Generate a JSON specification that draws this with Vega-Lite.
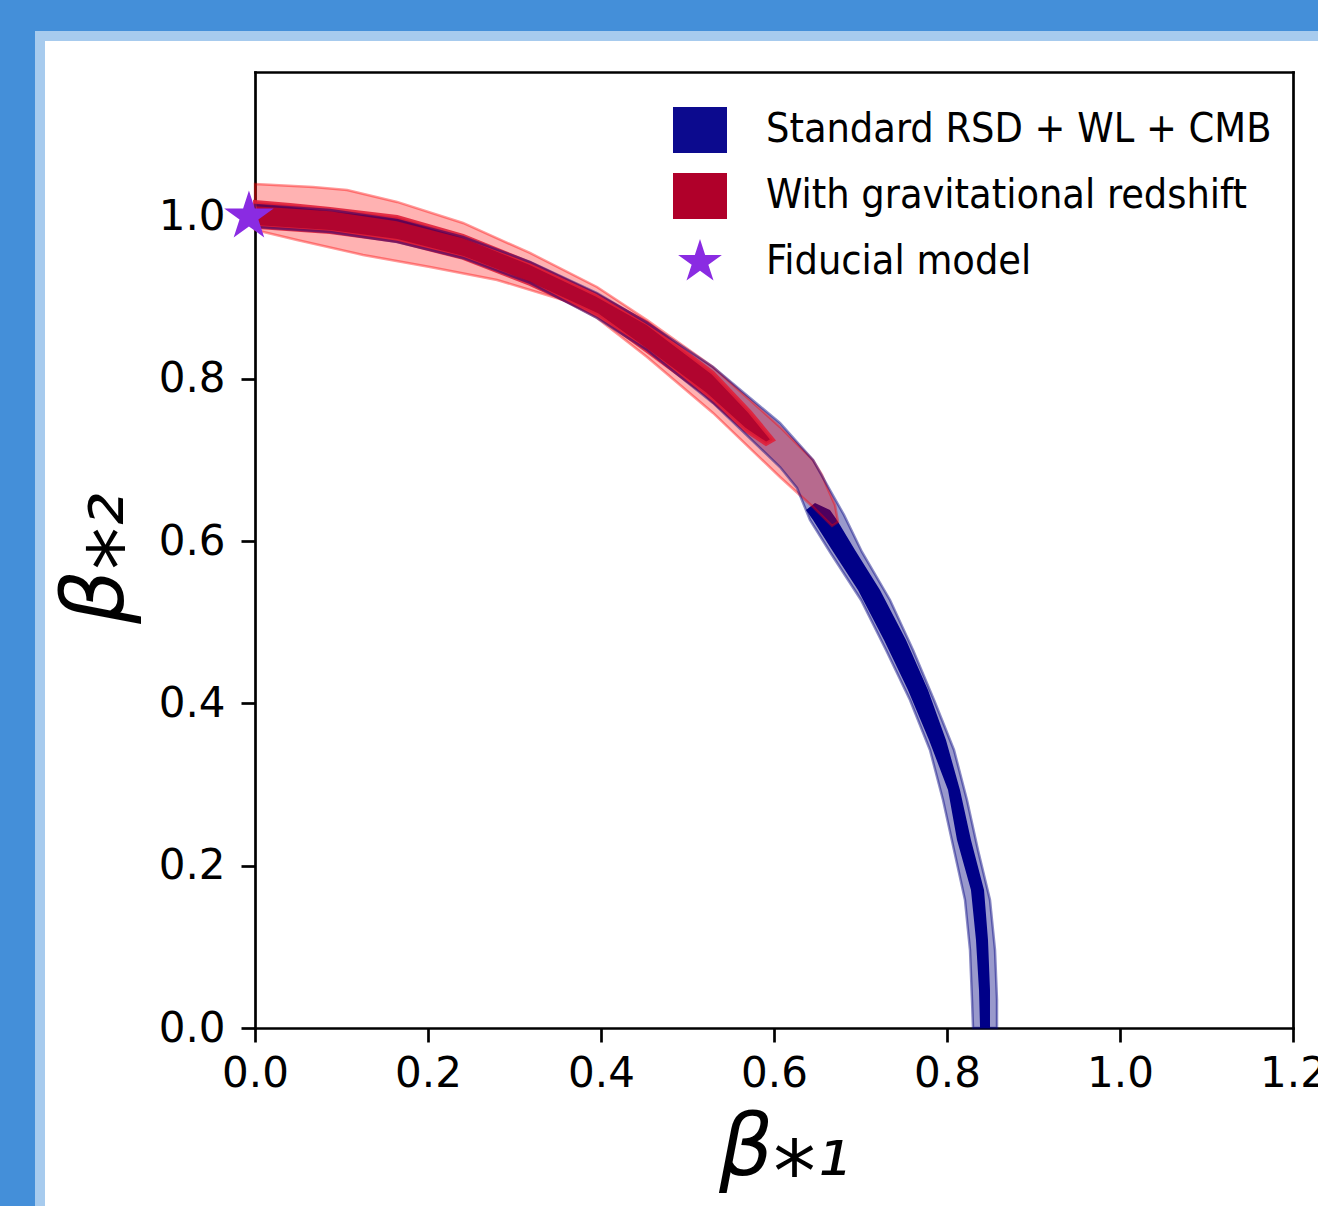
{
  "$schema": "https://vega.github.io/schema/vega-lite/v6.json",
  "width": 1278,
  "height": 1170,
  "autosize": {"type": "none"},
  "padding": {"left": 40, "top": 36, "right": 0, "bottom": 0},
  "background": "#448fd9",
  "config": {
    "view": {"fill": "white", "stroke": "#a7cbee", "strokeWidth": 10, "strokeCap": "square", "strokeDash": [1278, 2448, 1170, 0.001]},
    "axis": {"domainColor": "black", "tickColor": "black", "labelColor": "black", "titleColor": "black", "grid": false, "domainWidth": 2.7, "tickWidth": 2.7, "tickSize": 14, "labelFont": "DejaVu Sans", "labelFontSize": 42, "titleFont": "DejaVu Sans", "titleFontSize": 85, "titleFontWeight": "normal", "titleFontStyle": "italic", "domainCap": "square", "labelFlush": false, "labelOverlap": false}
  },
  "datasets": {
    "contours": [
      {"c":"b2","i":0,"x":0.0,"y":1.0142},{"c":"b2","i":1,"x":0.0867,"y":1.008},{"c":"b2","i":2,"x":0.1642,"y":0.9957},{"c":"b2","i":3,"x":0.2405,"y":0.9747},{"c":"b2","i":4,"x":0.3179,"y":0.9439},{"c":"b2","i":5,"x":0.3954,"y":0.9057},{"c":"b2","i":6,"x":0.4532,"y":0.8688},{"c":"b2","i":7,"x":0.5295,"y":0.8145},{"c":"b2","i":8,"x":0.6069,"y":0.7455},{"c":"b2","i":9,"x":0.6451,"y":0.6999},{"c":"b2","i":10,"x":0.6809,"y":0.6322},{"c":"b2","i":11,"x":0.7017,"y":0.5866},{"c":"b2","i":12,"x":0.7341,"y":0.5274},{"c":"b2","i":13,"x":0.7607,"y":0.4658},{"c":"b2","i":14,"x":0.785,"y":0.4042},{"c":"b2","i":15,"x":0.8081,"y":0.3426},{"c":"b2","i":16,"x":0.8231,"y":0.281},{"c":"b2","i":17,"x":0.8358,"y":0.2193},{"c":"b2","i":18,"x":0.8497,"y":0.1577},{"c":"b2","i":19,"x":0.8555,"y":0.0961},{"c":"b2","i":20,"x":0.8578,"y":0.0345},{"c":"b2","i":21,"x":0.8578,"y":0.0},
      {"c":"b2","i":22,"x":0.8301,"y":0.0},{"c":"b2","i":23,"x":0.8289,"y":0.0345},{"c":"b2","i":24,"x":0.8266,"y":0.0961},{"c":"b2","i":25,"x":0.8208,"y":0.1577},{"c":"b2","i":26,"x":0.8081,"y":0.2193},{"c":"b2","i":27,"x":0.7954,"y":0.281},{"c":"b2","i":28,"x":0.7803,"y":0.3426},{"c":"b2","i":29,"x":0.7572,"y":0.4042},{"c":"b2","i":30,"x":0.7295,"y":0.4658},{"c":"b2","i":31,"x":0.7006,"y":0.5274},{"c":"b2","i":32,"x":0.6647,"y":0.5866},{"c":"b2","i":33,"x":0.6416,"y":0.626},{"c":"b2","i":34,"x":0.6266,"y":0.6654},{"c":"b2","i":35,"x":0.6069,"y":0.6913},{"c":"b2","i":36,"x":0.5295,"y":0.7702},{"c":"b2","i":37,"x":0.4532,"y":0.8355},{"c":"b2","i":38,"x":0.3954,"y":0.8749},{"c":"b2","i":39,"x":0.3179,"y":0.9181},{"c":"b2","i":40,"x":0.2405,"y":0.9489},{"c":"b2","i":41,"x":0.1642,"y":0.9686},{"c":"b2","i":42,"x":0.0867,"y":0.9809},{"c":"b2","i":43,"x":0.0,"y":0.9871},

      {"c":"b1","i":0,"x":0.6474,"y":0.647},{"c":"b1","i":1,"x":0.6647,"y":0.6383},{"c":"b1","i":2,"x":0.6728,"y":0.626},{"c":"b1","i":3,"x":0.6936,"y":0.589},{"c":"b1","i":4,"x":0.7225,"y":0.5397},{"c":"b1","i":5,"x":0.7526,"y":0.4781},{"c":"b1","i":6,"x":0.778,"y":0.4165},{"c":"b1","i":7,"x":0.7988,"y":0.3549},{"c":"b1","i":8,"x":0.815,"y":0.2933},{"c":"b1","i":9,"x":0.8277,"y":0.2317},{"c":"b1","i":10,"x":0.8428,"y":0.1701},{"c":"b1","i":11,"x":0.8474,"y":0.1084},{"c":"b1","i":12,"x":0.8497,"y":0.0468},{"c":"b1","i":13,"x":0.8497,"y":0.0},
      {"c":"b1","i":14,"x":0.8382,"y":0.0},{"c":"b1","i":15,"x":0.837,"y":0.0468},{"c":"b1","i":16,"x":0.8335,"y":0.1084},{"c":"b1","i":17,"x":0.8277,"y":0.1701},{"c":"b1","i":18,"x":0.8116,"y":0.2317},{"c":"b1","i":19,"x":0.8012,"y":0.2933},{"c":"b1","i":20,"x":0.7792,"y":0.3549},{"c":"b1","i":21,"x":0.7549,"y":0.4165},{"c":"b1","i":22,"x":0.7272,"y":0.4781},{"c":"b1","i":23,"x":0.6971,"y":0.5397},{"c":"b1","i":24,"x":0.6671,"y":0.589},{"c":"b1","i":25,"x":0.6451,"y":0.626},{"c":"b1","i":26,"x":0.637,"y":0.6383},

      {"c":"r2","i":0,"x":0.0,"y":1.04},{"c":"r2","i":1,"x":0.0671,"y":1.0363},{"c":"r2","i":2,"x":0.1064,"y":1.0327},{"c":"r2","i":3,"x":0.1642,"y":1.0179},{"c":"r2","i":4,"x":0.2405,"y":0.992},{"c":"r2","i":5,"x":0.3179,"y":0.955},{"c":"r2","i":6,"x":0.3954,"y":0.9131},{"c":"r2","i":7,"x":0.4532,"y":0.8725},{"c":"r2","i":8,"x":0.5295,"y":0.8145},{"c":"r2","i":9,"x":0.6069,"y":0.7406},{"c":"r2","i":10,"x":0.6451,"y":0.6999},{"c":"r2","i":11,"x":0.6555,"y":0.6815},{"c":"r2","i":12,"x":0.6613,"y":0.6667},{"c":"r2","i":13,"x":0.6705,"y":0.6445},{"c":"r2","i":14,"x":0.674,"y":0.6235},
      {"c":"r2","i":15,"x":0.6671,"y":0.6186},{"c":"r2","i":16,"x":0.6451,"y":0.642},{"c":"r2","i":17,"x":0.6069,"y":0.679},{"c":"r2","i":18,"x":0.5295,"y":0.7579},{"c":"r2","i":19,"x":0.4532,"y":0.8269},{"c":"r2","i":20,"x":0.3954,"y":0.8749},{"c":"r2","i":21,"x":0.3561,"y":0.8971},{"c":"r2","i":22,"x":0.2798,"y":0.9217},{"c":"r2","i":23,"x":0.2023,"y":0.9378},{"c":"r2","i":24,"x":0.1249,"y":0.9526},{"c":"r2","i":25,"x":0.0486,"y":0.971},{"c":"r2","i":26,"x":0.0,"y":0.9834},

      {"c":"r1","i":0,"x":0.0,"y":1.0179},{"c":"r1","i":1,"x":0.0405,"y":1.0142},{"c":"r1","i":2,"x":0.0867,"y":1.0092},{"c":"r1","i":3,"x":0.1642,"y":0.9994},{"c":"r1","i":4,"x":0.2405,"y":0.976},{"c":"r1","i":5,"x":0.3179,"y":0.9427},{"c":"r1","i":6,"x":0.3954,"y":0.9033},{"c":"r1","i":7,"x":0.4532,"y":0.8688},{"c":"r1","i":8,"x":0.5295,"y":0.8072},{"c":"r1","i":9,"x":0.5723,"y":0.7591},{"c":"r1","i":10,"x":0.5988,"y":0.7246},
      {"c":"r1","i":11,"x":0.5908,"y":0.7197},{"c":"r1","i":12,"x":0.5665,"y":0.7369},{"c":"r1","i":13,"x":0.5202,"y":0.7813},{"c":"r1","i":14,"x":0.4532,"y":0.8343},{"c":"r1","i":15,"x":0.3954,"y":0.8786},{"c":"r1","i":16,"x":0.3179,"y":0.9168},{"c":"r1","i":17,"x":0.2405,"y":0.9489},{"c":"r1","i":18,"x":0.1642,"y":0.9698},{"c":"r1","i":19,"x":0.0867,"y":0.9809},{"c":"r1","i":20,"x":0.0,"y":0.9871}
    ],
    "fiducial": [{"label": "Fiducial model", "x": -0.007, "y": 1.0}]
  },
  "resolve": {"axis": {"x": "independent", "y": "independent"}},
  "layer": [
    {
      "data": {"name": "contours"},
      "transform": [{"filter": "datum.c === 'b2'"}],
      "mark": {"type": "line", "interpolate": "linear-closed", "fill": "#000080", "fillOpacity": 0.4, "strokeWidth": 0},
      "encoding": {
        "x": {"field": "x", "type": "quantitative", "scale": {"domain": [0, 1.2], "range": [215, 1253], "nice": false, "zero": false},
              "axis": {"orient": "bottom", "offset": -178, "values": [0, 0.2, 0.4, 0.6, 0.8, 1.0, 1.2], "format": ".1f", "labelPadding": 11, "title": "β⁎₁", "titlePadding": 13, "titleX": 744}},
        "y": {"field": "y", "type": "quantitative", "scale": {"domain": [0, 1.178], "range": [992, 36], "nice": false, "zero": false},
              "axis": {"orient": "left", "offset": -215, "values": [0, 0.2, 0.4, 0.6, 0.8, 1.0], "format": ".1f", "labelPadding": 16, "title": "β⁎₂", "titlePadding": 18, "titleY": 522}},
        "order": {"field": "i", "type": "quantitative"}
      }
    },
    {
      "data": {"name": "contours"},
      "transform": [{"filter": "datum.c === 'b1'"}],
      "mark": {"type": "line", "interpolate": "linear-closed", "fill": "#000088", "fillOpacity": 1, "strokeWidth": 0},
      "encoding": {
        "x": {"field": "x", "type": "quantitative", "axis": null},
        "y": {"field": "y", "type": "quantitative", "axis": null},
        "order": {"field": "i", "type": "quantitative"}
      }
    },
    {
      "data": {"name": "contours"},
      "transform": [{"filter": "datum.c === 'r2'"}],
      "mark": {"type": "line", "interpolate": "linear-closed", "fill": "#ff0000", "fillOpacity": 0.3, "stroke": "#ff0000", "strokeOpacity": 0.4, "strokeWidth": 2.5},
      "encoding": {
        "x": {"field": "x", "type": "quantitative", "axis": {"orient": "top", "offset": -36, "labels": false, "ticks": false, "title": null}},
        "y": {"field": "y", "type": "quantitative", "axis": {"orient": "right", "offset": -25, "labels": false, "ticks": false, "title": null}},
        "order": {"field": "i", "type": "quantitative"}
      }
    },
    {
      "data": {"name": "contours"},
      "transform": [{"filter": "datum.c === 'r1'"}],
      "mark": {"type": "line", "interpolate": "linear-closed", "fill": "#b0002a", "fillOpacity": 0.95, "stroke": "#e0203a", "strokeOpacity": 0.9, "strokeWidth": 4},
      "encoding": {
        "x": {"field": "x", "type": "quantitative", "axis": null},
        "y": {"field": "y", "type": "quantitative", "axis": null},
        "order": {"field": "i", "type": "quantitative"}
      }
    },
    {
      "data": {"name": "contours"},
      "transform": [{"filter": "datum.c === 'b2'"}],
      "mark": {"type": "line", "interpolate": "linear-closed", "stroke": "#000080", "strokeOpacity": 0.45, "strokeWidth": 2.5},
      "encoding": {
        "x": {"field": "x", "type": "quantitative", "axis": null},
        "y": {"field": "y", "type": "quantitative", "axis": null},
        "order": {"field": "i", "type": "quantitative"}
      }
    },
    {
      "data": {"name": "fiducial"},
      "mark": {"type": "point", "filled": true, "opacity": 1, "size": 2704, "strokeWidth": 0},
      "encoding": {
        "x": {"field": "x", "type": "quantitative", "axis": null},
        "y": {"field": "y", "type": "quantitative", "axis": null},
        "color": {"field": "label", "type": "nominal",
          "scale": {"domain": ["Standard RSD + WL + CMB", "With gravitational redshift", "Fiducial model"], "range": ["#0c0a8e", "#b0002a", "#8a2be2"]},
          "legend": {"title": null, "orient": "none", "legendX": 637, "legendY": 71, "padding": 0, "symbolSize": 2116, "symbolStrokeWidth": 0, "symbolOpacity": 1, "labelFont": "Liberation Sans Narrow, DejaVu Sans Condensed, Roboto, sans-serif", "labelFontSize": 41, "labelColor": "black", "labelLimit": 900, "labelOffset": 43, "rowPadding": 20}},
        "shape": {"field": "label", "type": "nominal",
          "scale": {"domain": ["Standard RSD + WL + CMB", "With gravitational redshift", "Fiducial model"], "range": ["M-1.174,-1H1.174V1H-1.174Z", "M-1.174,-1H1.174V1H-1.174Z", "M0,-1L0.2245,-0.309L0.951,-0.309L0.3633,0.118L0.588,0.809L0,0.382L-0.588,0.809L-0.3633,0.118L-0.951,-0.309L-0.2245,-0.309Z"]},
          "legend": {"title": null, "orient": "none", "legendX": 637, "legendY": 71, "padding": 0, "symbolSize": 2116, "symbolStrokeWidth": 0, "symbolOpacity": 1, "labelFont": "Liberation Sans Narrow, DejaVu Sans Condensed, Roboto, sans-serif", "labelFontSize": 41, "labelColor": "black", "labelLimit": 900, "labelOffset": 43, "rowPadding": 20}}
      }
    }
  ]
}
